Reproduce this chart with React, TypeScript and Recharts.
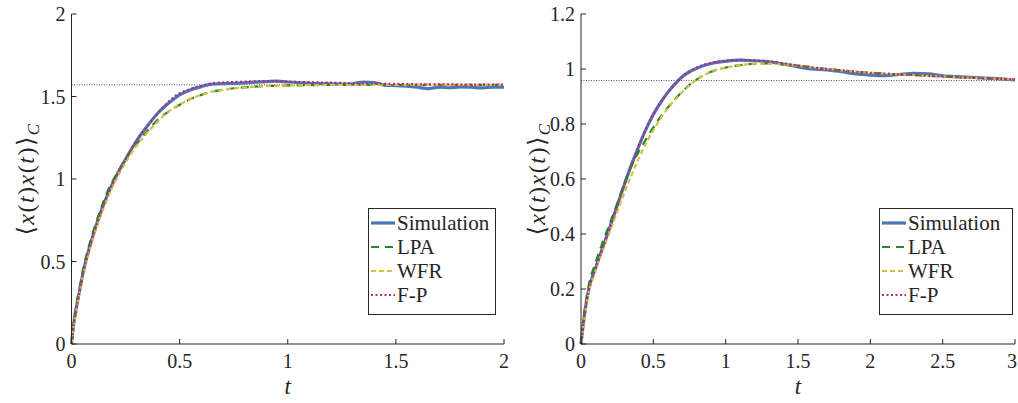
import { LineChart, Line, XAxis, YAxis, ReferenceLine, Legend } from 'recharts';

// ---- left panel ----
const tLeft = [0, 0.01, 0.02, 0.04, 0.06, 0.08, 0.1, 0.125, 0.15, 0.175, 0.2, 0.25, 0.3, 0.35, 0.4, 0.45, 0.5, 0.55, 0.6, 0.65, 0.7, 0.75, 0.8, 0.85, 0.9, 0.95, 1.0, 1.05, 1.1, 1.15, 1.2, 1.25, 1.3, 1.35, 1.4, 1.45, 1.5, 1.55, 1.6, 1.65, 1.7, 1.75, 1.8, 1.85, 1.9, 1.95, 2.0];
const simLeft = [0, 0.12, 0.2, 0.34, 0.47, 0.57, 0.66, 0.76, 0.85, 0.93, 1.0, 1.12, 1.23, 1.32, 1.4, 1.46, 1.51, 1.54, 1.56, 1.575, 1.578, 1.58, 1.583, 1.587, 1.59, 1.593, 1.588, 1.585, 1.58, 1.578, 1.576, 1.575, 1.577, 1.588, 1.585, 1.568, 1.566, 1.562, 1.556, 1.548, 1.556, 1.553, 1.558, 1.556, 1.552, 1.557, 1.556];
const lpaLeft = [0, 0.13, 0.22, 0.36, 0.49, 0.59, 0.68, 0.78, 0.87, 0.95, 1.01, 1.12, 1.21, 1.29, 1.36, 1.41, 1.45, 1.485, 1.51, 1.53, 1.54, 1.55, 1.555, 1.56, 1.563, 1.565, 1.567, 1.568, 1.569, 1.57, 1.57, 1.57, 1.57, 1.57, 1.57, 1.57, 1.57, 1.57, 1.57, 1.57, 1.57, 1.57, 1.57, 1.57, 1.57, 1.57, 1.57];
const wfrLeft = [0, 0.11, 0.19, 0.33, 0.45, 0.55, 0.64, 0.74, 0.83, 0.91, 0.98, 1.1, 1.2, 1.28, 1.35, 1.41, 1.45, 1.485, 1.51, 1.53, 1.54, 1.55, 1.555, 1.56, 1.563, 1.565, 1.567, 1.568, 1.569, 1.57, 1.571, 1.571, 1.571, 1.571, 1.571, 1.571, 1.571, 1.571, 1.571, 1.571, 1.571, 1.571, 1.571, 1.571, 1.571, 1.571, 1.571];
const fpLeft = [0, 0.12, 0.2, 0.34, 0.47, 0.57, 0.66, 0.76, 0.85, 0.93, 1.0, 1.12, 1.23, 1.32, 1.4, 1.47, 1.52, 1.545, 1.565, 1.58, 1.585, 1.588, 1.59, 1.592, 1.593, 1.592, 1.59, 1.588, 1.587, 1.585, 1.584, 1.582, 1.58, 1.579, 1.578, 1.577, 1.576, 1.575, 1.574, 1.574, 1.573, 1.573, 1.572, 1.572, 1.572, 1.572, 1.572];
const xTicksLeft = [0, 0.5, 1, 1.5, 2];
const yTicksLeft = [0, 0.5, 1, 1.5, 2];
const steadyLeft = 1.5708;

// ---- right panel ----
const tRight = [0, 0.02, 0.05, 0.1, 0.15, 0.2, 0.25, 0.3, 0.35, 0.4, 0.45, 0.5, 0.55, 0.6, 0.65, 0.7, 0.75, 0.8, 0.9, 1.0, 1.1, 1.2, 1.3, 1.4, 1.5, 1.6, 1.7, 1.8, 1.9, 2.0, 2.1, 2.2, 2.3, 2.4, 2.5, 2.6, 2.7, 2.8, 2.9, 3.0];
const simRight = [0, 0.09, 0.19, 0.275, 0.35, 0.425, 0.503, 0.58, 0.653, 0.72, 0.782, 0.835, 0.878, 0.915, 0.946, 0.972, 0.99, 1.003, 1.02, 1.028, 1.032, 1.03, 1.026, 1.018, 1.008, 1.0, 0.997, 0.99, 0.982, 0.978, 0.976, 0.98, 0.984, 0.982, 0.975, 0.972, 0.97, 0.967, 0.964, 0.96];
const lpaRight = [0, 0.1, 0.205, 0.295, 0.37, 0.44, 0.51, 0.585, 0.65, 0.7, 0.745, 0.788, 0.826, 0.86, 0.89, 0.918, 0.942, 0.962, 0.99, 1.005, 1.014, 1.019, 1.02, 1.017, 1.012, 1.006, 1.0, 0.995, 0.99, 0.986, 0.983, 0.98, 0.978, 0.975, 0.973, 0.97, 0.968, 0.966, 0.964, 0.962];
const wfrRight = [0, 0.08, 0.18, 0.265, 0.34, 0.41, 0.48, 0.55, 0.615, 0.675, 0.73, 0.777, 0.82, 0.857, 0.888, 0.916, 0.941, 0.961, 0.99, 1.005, 1.014, 1.019, 1.02, 1.017, 1.012, 1.006, 1.0, 0.995, 0.99, 0.986, 0.983, 0.98, 0.978, 0.975, 0.973, 0.97, 0.968, 0.966, 0.964, 0.962];
const fpRight = [0, 0.09, 0.19, 0.275, 0.35, 0.425, 0.503, 0.58, 0.653, 0.72, 0.782, 0.835, 0.878, 0.915, 0.946, 0.972, 0.99, 1.005, 1.022, 1.03, 1.033, 1.031, 1.027, 1.02, 1.013, 1.006, 1.0, 0.995, 0.99, 0.986, 0.983, 0.98, 0.978, 0.975, 0.973, 0.97, 0.968, 0.966, 0.964, 0.962];
const xTicksRight = [0, 0.5, 1, 1.5, 2, 2.5, 3];
const yTicksRight = [0, 0.2, 0.4, 0.6, 0.8, 1, 1.2];
const steadyRight = 0.958;

const seriesNames = ['Simulation', 'LPA', 'WFR', 'F-P'];

const FONT = '"Times New Roman", "Liberation Serif", Tinos, "DejaVu Serif", serif';
const INK = '#262626';

const styles = [
  { key: 'sim', color: '#4a78b5', width: 3.2, dash: undefined as string | undefined },
  { key: 'lpa', color: '#1f8a2e', width: 2.2, dash: '8 6' },
  { key: 'wfr', color: '#d4c23f', width: 2.2, dash: '5 3' },
  { key: 'fp', color: '#c2237a', width: 2.2, dash: '2 2.5' },
];

const XTick = (props: any) => {
  const { x, y, payload, maxX } = props;
  return (
    <g>
      <line x1={x} y1={y} x2={x} y2={y - 5} stroke={INK} />
      <text x={Math.min(x, maxX)} y={y + 24} textAnchor="middle" fontSize={20} fill={INK} fontFamily={FONT}>
        {payload.value}
      </text>
    </g>
  );
};

const YTick = (props: any) => {
  const { x, y, payload } = props;
  return (
    <g>
      <line x1={x} y1={y} x2={x + 5} y2={y} stroke={INK} />
      <text x={x - 6} y={y + 7} textAnchor="end" fontSize={20} fill={INK} fontFamily={FONT}>
        {payload.value}
      </text>
    </g>
  );
};

const YLabel = ({ cx, cy }: { cx: number; cy: number }) => (
  <text
    x={cx}
    y={cy}
    transform={`rotate(-90 ${cx} ${cy})`}
    textAnchor="middle"
    fontSize={24}
    letterSpacing={1.5}
    fill={INK}
    fontFamily={FONT}
  >
    <tspan>⟨</tspan>
    <tspan fontStyle="italic">x</tspan>
    <tspan>(</tspan>
    <tspan fontStyle="italic">t</tspan>
    <tspan>)</tspan>
    <tspan fontStyle="italic">x</tspan>
    <tspan>(</tspan>
    <tspan fontStyle="italic">t</tspan>
    <tspan>)⟩</tspan>
    <tspan fontStyle="italic" fontSize={17} dy={5}>C</tspan>
  </text>
);

const LegendBox = ({ width }: { width: number }) => (
  <div
    style={{
      width,
      border: `1px solid ${INK}`,
      background: '#fff',
      padding: '2px 0 7px 0',
      fontFamily: FONT,
      fontSize: 21,
      color: INK,
      boxSizing: 'border-box',
    }}
  >
    {seriesNames.map((name, i) => (
      <div key={name} style={{ display: 'flex', alignItems: 'center', height: 24 }}>
        <svg width={26} height={10} style={{ marginLeft: 1 }}>
          <line
            x1={1}
            y1={5}
            x2={25}
            y2={5}
            stroke={styles[i].color}
            strokeWidth={styles[i].width}
            strokeDasharray={styles[i].dash}
          />
        </svg>
        <span style={{ marginLeft: 1 }}>{name}</span>
      </div>
    ))}
  </div>
);

interface PanelProps {
  t: number[];
  sim: number[];
  lpa: number[];
  wfr: number[];
  fp: number[];
  xTicks: number[];
  yTicks: number[];
  steady: number;
  width: number;
  yAxisWidth: number;
  marginRight: number;
  labelX: number;
  legendLeft: number;
  legendWidth: number;
}

function Panel(p: PanelProps) {
  const data = p.t.map((t, i) => ({ t, sim: p.sim[i], lpa: p.lpa[i], wfr: p.wfr[i], fp: p.fp[i] }));
  const xMax = p.xTicks[p.xTicks.length - 1];
  const yMax = p.yTicks[p.yTicks.length - 1];
  return (
    <LineChart
      width={p.width}
      height={403}
      data={data}
      margin={{ top: 14, right: p.marginRight, bottom: 0, left: 0 }}
    >
      <XAxis
        dataKey="t"
        type="number"
        domain={[0, xMax]}
        ticks={p.xTicks}
        interval={0}
        height={59}
        tickSize={0}
        tickMargin={0}
        tickLine={false}
        stroke={INK}
        tick={<XTick maxX={p.width - 6} />}
        label={({ viewBox }: any) => (
          <text
            x={viewBox.x + viewBox.width / 2}
            y={394}
            textAnchor="middle"
            fontSize={23}
            fontStyle="italic"
            fill={INK}
            fontFamily={FONT}
          >
            t
          </text>
        )}
      />
      <YAxis
        type="number"
        domain={[0, yMax]}
        ticks={p.yTicks}
        interval={0}
        width={p.yAxisWidth}
        tickSize={0}
        tickMargin={0}
        tickLine={false}
        stroke={INK}
        tick={<YTick />}
        label={({ viewBox }: any) => <YLabel cx={p.labelX} cy={viewBox.y + viewBox.height / 2} />}
      />
      <ReferenceLine y={p.steady} stroke="#555" strokeWidth={1} strokeDasharray="1 1.5" />
      {styles.map((s) => (
        <Line
          key={s.key}
          type="monotone"
          dataKey={s.key}
          stroke={s.color}
          strokeWidth={s.width}
          strokeDasharray={s.dash}
          dot={false}
          activeDot={false}
          isAnimationActive={false}
        />
      ))}
      <Legend
        layout="vertical"
        align="center"
        verticalAlign="middle"
        content={() => <LegendBox width={p.legendWidth} />}
        wrapperStyle={{ position: 'absolute', left: p.legendLeft, top: 208, width: p.legendWidth, bottom: 'auto' }}
      />
    </LineChart>
  );
}

export default function App() {
  return (
    <div
      style={{
        position: 'absolute',
        left: 0,
        top: 0,
        width: 1018,
        height: 403,
        background: '#fff',
        display: 'flex',
        fontFamily: FONT,
        overflow: 'hidden',
      }}
    >
      <Panel
        t={tLeft}
        sim={simLeft}
        lpa={lpaLeft}
        wfr={wfrLeft}
        fp={fpLeft}
        xTicks={xTicksLeft}
        yTicks={yTicksLeft}
        steady={steadyLeft}
        width={525}
        yAxisWidth={71.5}
        marginRight={21}
        labelX={34}
        legendLeft={368}
        legendWidth={128}
      />
      <Panel
        t={tRight}
        sim={simRight}
        lpa={lpaRight}
        wfr={wfrRight}
        fp={fpRight}
        xTicks={xTicksRight}
        yTicks={yTicksRight}
        steady={steadyRight}
        width={493}
        yAxisWidth={56}
        marginRight={3}
        labelX={20}
        legendLeft={354}
        legendWidth={134}
      />
    </div>
  );
}
